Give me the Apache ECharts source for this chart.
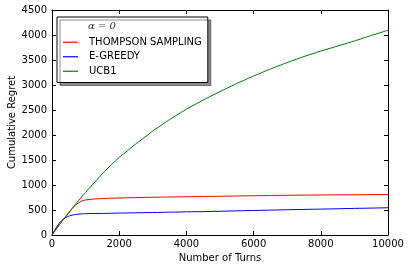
<!DOCTYPE html>
<html>
<head>
<meta charset="utf-8">
<script src="https://cdn.jsdelivr.net/npm/echarts@6/dist/echarts.min.js"></script>
<style>
html,body{margin:0;padding:0;background:#fff;}
#c{width:409px;height:271px;}
</style>
</head>
<body>
<div id="c"></div>
<script>
const turns = [0,100,200,300,400,500,600,700,800,900,1000,1250,1500,1750,2000,2500,3000,3500,4000,4500,5000,5500,6000,6500,7000,7500,8000,8500,9000,9500,10000];
const thompson = [0,90,185,275,360,440,525,600,650,685,700,720,730,735,740,748,755,760,765,770,775,780,785,790,795,798,800,803,805,808,810];
const egreedy = [0,120,225,295,345,378,398,410,418,423,427,430,432,435,438,444,450,456,463,468,475,483,490,498,505,512,518,525,532,538,545];
const ucb1 = [0,100,195,280,365,450,535,615,695,775,850,1040,1225,1395,1550,1825,2080,2310,2515,2700,2869,3030,3180,3320,3450,3570,3678,3780,3880,3990,4095];
const seriesNames = ['THOMPSON SAMPLING','E-GREEDY','UCB1'];
const seriesColors = ['#ff0000','#0000ff','#008000'];
const xTicks = {min:0, max:10000, interval:2000};
const yTicks = {min:0, max:4500, interval:500};

const pair = arr => turns.map((t,i)=>[t,arr[i]]);
const font = 'DejaVu Sans';
const axisCommon = {
  axisLine:{show:true, onZero:false, lineStyle:{color:'#000', width:1}},
  axisTick:{show:true, inside:true, length:4, lineStyle:{color:'#000'}},
  splitLine:{show:false}
};
const chart = echarts.init(document.getElementById('c'), null, {renderer:'canvas'});
chart.setOption({
  animation:false,
  backgroundColor:'#fff',
  grid:{left:52, right:21, top:10, bottom:36, containLabel:false, outerBoundsMode:'none'},
  title:{text:'α = 0', left:88, top:21, z:20,
    textStyle:{fontFamily:'DejaVu Serif', fontStyle:'italic', fontWeight:'normal', fontSize:10, color:'#333'}, padding:0},
  legend:{
    orient:'vertical', left:57, top:17, z:10,
    padding:[19,6,5,6], itemGap:2,
    backgroundColor:'#fff', borderColor:'#000', borderWidth:1, borderRadius:0,
    shadowColor:'rgba(0,0,0,0.45)', shadowBlur:0, shadowOffsetX:3, shadowOffsetY:3,
    icon:'rect', itemWidth:15, itemHeight:1.2,
    data:seriesNames,
    formatter: n => '{a|' + n + '}',
    textStyle:{fontFamily:font, fontSize:10, color:'#000', lineHeight:12.5,
      rich:{a:{fontFamily:font, fontSize:10, color:'#000', padding:[0,0,0,6], lineHeight:12.5}}}
  },
  xAxis:[
    Object.assign({type:'value', position:'bottom', min:xTicks.min, max:xTicks.max, interval:xTicks.interval,
      name:'Number of Turns', nameLocation:'middle', nameGap:18, nameMoveOverlap:false,
      nameTextStyle:{fontFamily:font, fontSize:10, color:'#000'},
      axisLabel:{fontFamily:font, fontSize:10, color:'#000', margin:4, formatter:v=>String(v)}}, axisCommon),
    Object.assign({type:'value', position:'top', min:xTicks.min, max:xTicks.max, interval:xTicks.interval,
      axisLabel:{show:false}}, axisCommon)
  ],
  yAxis:[
    Object.assign({type:'value', position:'left', min:yTicks.min, max:yTicks.max, interval:yTicks.interval,
      name:'Cumulative Regret', nameLocation:'middle', nameGap:35, nameMoveOverlap:false,
      nameTextStyle:{fontFamily:font, fontSize:10, color:'#000'},
      axisLabel:{fontFamily:font, fontSize:10, color:'#000', margin:5, formatter:v=>String(v)}}, axisCommon),
    Object.assign({type:'value', position:'right', min:yTicks.min, max:yTicks.max, interval:yTicks.interval,
      axisLabel:{show:false}}, axisCommon)
  ],
  series:[thompson, egreedy, ucb1].map((arr,i)=>({
    name:seriesNames[i], type:'line', data:pair(arr), showSymbol:false, symbol:'none',
    smooth:false, lineStyle:{color:seriesColors[i], width:1}, itemStyle:{color:seriesColors[i]},
    xAxisIndex:0, yAxisIndex:0, z:2+i
  }))
});
</script>
</body>
</html>
